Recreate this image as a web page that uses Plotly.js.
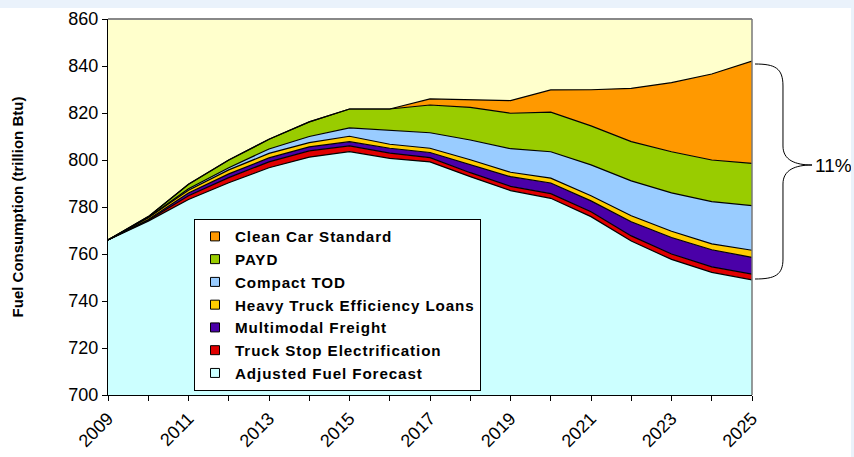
<!DOCTYPE html>
<html>
<head>
<meta charset="utf-8">
<script src="https://cdn.plot.ly/plotly-3.0.1.min.js"></script>
<style>
  html, body { margin: 0; padding: 0; background: #eaf2fb; width: 854px; height: 457px; overflow: hidden; }
  #chart { position: absolute; left: 0; top: 8px; width: 851px; height: 449px; background: #ffffff; }
  .legendtext { letter-spacing: 0.9px; }
</style>
</head>
<body>
<div id="chart"></div>
<script>
// ---- data ----
const years = [2009,2010,2011,2012,2013,2014,2015,2016,2017,2018,2019,2020,2021,2022,2023,2024,2025];
const adjustedFuelForecast   = [766,774,783.2,790.3,796.7,801.2,803.6,800.7,799.2,792.9,787,783.7,775.9,765.5,757.7,752.2,749];
const truckStopElectrification = [0,0.4,1.6,2.2,2.5,2.7,2.4,2.2,1.8,1.7,1.8,2.0,2.1,2.2,2.3,2.3,2.4];
const multimodalFreight      = [0,0.3,1.2,1.6,1.7,1.7,1.8,2.1,2.2,3.4,4.1,4.5,4.6,6.0,7.0,7.3,7.2];
const heavyTruckLoans        = [0,0.7,1.1,1.7,1.9,1.8,2.3,1.7,1.8,2.1,1.9,2.1,2.2,2.6,2.7,2.5,3.0];
const compactTOD             = [0,0.1,0.7,0.9,1.9,2.6,3.6,6.1,6.6,8.4,10.0,11.2,13.1,14.8,16.3,18.0,19.0];
const payd                   = [0,0.4,1.9,3.3,4.1,6.2,8.0,8.9,11.8,13.9,15.1,16.9,16.6,16.7,17.5,17.7,18.0];
const cleanCarStandard       = [0,0,0,0,0,0,0,0,2.6,3.1,5.4,9.4,15.4,22.7,29.4,36.6,43.5];

const seriesNames = ["Adjusted Fuel Forecast","Truck Stop Electrification","Multimodal Freight",
  "Heavy Truck Efficiency Loans","Compact TOD","PAYD","Clean Car Standard"];
const seriesValues = [adjustedFuelForecast, truckStopElectrification, multimodalFreight,
  heavyTruckLoans, compactTOD, payd, cleanCarStandard];
const seriesColors = ["#ccffff","#e00000","#4a00a8","#ffcc00","#99ccff","#99cc00","#ff9900"];

const yTitle = "Fuel Consumption (trillion Btu)";
const bracketLabel = "11%";

// ---- traces ----
const traces = [];
seriesNames.forEach((name, i) => {
  traces.push({
    x: years, y: seriesValues[i], name: name, type: 'scatter', mode: 'lines',
    stackgroup: 'one', fill: i === 0 ? 'tozeroy' : 'tonexty',
    fillcolor: seriesColors[i], line: {color: '#000000', width: 1.2},
    showlegend: false, hoverinfo: 'x+y+name'
  });
});
// legend entries (square swatches), top to bottom
for (let i = seriesNames.length - 1; i >= 0; i--) {
  traces.push({
    x: [null], y: [null], name: seriesNames[i], type: 'scatter', mode: 'markers',
    marker: {symbol: 'square', size: 9, color: seriesColors[i], line: {color: '#000000', width: 1}},
    showlegend: true
  });
}

// ---- bracket (pixel geometry -> paper coords) ----
const PL = 108, PR = 752, PT = 19, PB = 395;
const px = v => (v - PL) / (PR - PL);
const py = v => (PB - v) / (PB - PT);
function P(x, y) { return px(x).toFixed(4) + ',' + py(y).toFixed(4); }
const bracePath =
  'M ' + P(755,64) + ' C ' + P(775,64) + ' ' + P(783,68) + ' ' + P(783,86) +
  ' L ' + P(783,146) + ' C ' + P(783,160) + ' ' + P(795,165) + ' ' + P(812,165) +
  ' C ' + P(795,165) + ' ' + P(783,170) + ' ' + P(783,184) +
  ' L ' + P(783,259) + ' C ' + P(783,275) + ' ' + P(775,279) + ' ' + P(755,279);

const font = 'Arial, "Liberation Sans", sans-serif';

const layout = {
  width: 851, height: 449,
  margin: {l: 108, r: 99, t: 11, b: 62},
  paper_bgcolor: '#ffffff',
  plot_bgcolor: '#ffffcc',
  font: {family: font, color: '#000000'},
  showlegend: true,
  xaxis: {
    range: [2009, 2025], tick0: 2009, dtick: 2, tickangle: -45,
    ticks: 'outside', ticklen: 5, tickcolor: '#000', tickwidth: 1,
    minor: {dtick: 1, ticks: 'outside', ticklen: 5, tickcolor: '#000'},
    showline: true, linecolor: '#000', linewidth: 1,
    showgrid: false, zeroline: false,
    tickfont: {family: font, size: 18, color: '#000'}
  },
  yaxis: {
    range: [700, 860], dtick: 20,
    ticks: 'outside', ticklen: 5, tickcolor: '#000',
    showline: true, linecolor: '#000', linewidth: 1,
    showgrid: false, zeroline: false,
    tickfont: {family: font, size: 18, color: '#000'},
    title: {text: '<b>' + yTitle + '</b>', font: {family: font, size: 15, color: '#000'}, standoff: 41}
  },
  legend: {
    x: px(194), y: py(219), xanchor: 'left', yanchor: 'top',
    bgcolor: '#ffffff', bordercolor: '#000000', borderwidth: 1,
    font: {family: font, size: 15.2, color: '#000', weight: 'bold'},
    tracegroupgap: 0, traceorder: 'normal', itemwidth: 30
  },
  shapes: [
    {type: 'line', xref: 'paper', yref: 'paper', x0: 0, x1: 1, y0: 1, y1: 1, line: {color: '#888888', width: 2}, layer: 'above'},
    {type: 'line', xref: 'paper', yref: 'paper', x0: 1, x1: 1, y0: 0, y1: 1, line: {color: '#777777', width: 1.5}, layer: 'above'},
    {type: 'path', xref: 'paper', yref: 'paper', path: bracePath, line: {color: '#000000', width: 1}, layer: 'above'}
  ],
  annotations: [
    {xref: 'paper', yref: 'paper', x: px(813), y: py(165), xanchor: 'left', yanchor: 'middle',
     text: bracketLabel, showarrow: false, font: {family: font, size: 19, color: '#000'}}
  ]
};

Plotly.newPlot('chart', traces, layout, {displayModeBar: false, staticPlot: true});
</script>
</body>
</html>
